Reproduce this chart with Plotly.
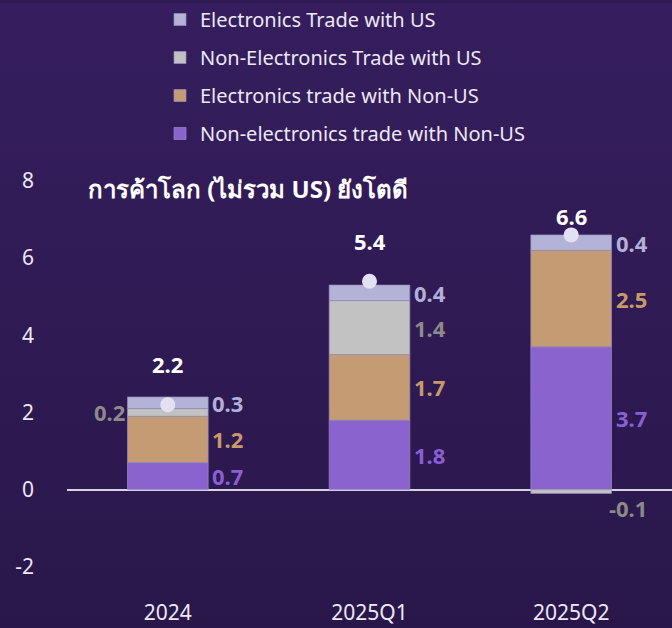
import plotly.graph_objects as go
import base64

categories = ["2024", "2025Q1", "2025Q2"]
elec_us = [0.3, 0.4, 0.4]
nonelec_us = [0.2, 1.4, -0.1]
elec_nonus = [1.2, 1.7, 2.5]
nonelec_nonus = [0.7, 1.8, 3.7]
totals = [2.2, 5.4, 6.6]
y_ticks = [-2, 0, 2, 4, 6, 8]
y_tick_text = ["-2", "0", "2", "4", "6", "8"]
title_text = "การค้าโลก (ไม่รวม US) ยังโตดี"

W, H = 672, 628
ML, MR, MT, MB = 67, 0, 160, 30
PW, PH = W - ML - MR, H - MT - MB

FONT = "Noto Sans, Open Sans, sans-serif"
TXT = "#ece8f4"

series = [
    ("Non-electronics trade with Non-US", nonelec_nonus, "#8a63cf", "#8a5fd6"),
    ("Electronics trade with Non-US", elec_nonus, "#c49b72", "#c8996b"),
    ("Non-Electronics Trade with US", nonelec_us, "#c2c2c2", "#8c8a8a"),
    ("Electronics Trade with US", elec_us, "#b3b3d8", "#b2b0d6"),
]

fig = go.Figure()
for i, (name, vals, col, _) in enumerate(series):
    fig.add_trace(go.Bar(
        x=categories, y=vals, name=name, width=0.4,
        marker=dict(color=col, line=dict(color="rgba(150,140,190,0.7)", width=1)),
        legendgroup=f"g{i}", legendrank=len(series) - i, hoverinfo="skip",
    ))

fig.add_trace(go.Scatter(
    x=categories, y=totals, mode="markers", showlegend=False,
    marker=dict(color="#e4e0f4", size=15), hoverinfo="skip",
))

annotations = []
LBL = 22
pos_base = [0.0] * len(categories)
neg_base = [0.0] * len(categories)
for name, vals, col, lcol in series:
    for j, v in enumerate(vals):
        if v >= 0:
            mid = pos_base[j] + v / 2
            pos_base[j] += v
            left_side = (name == "Non-Electronics Trade with US" and v < 0.3)
            annotations.append(dict(
                x=j + (-0.2 if left_side else 0.2), y=mid, xref="x", yref="y",
                text=f"<b>{v:.1f}</b>", showarrow=False,
                xanchor="right" if left_side else "left",
                xshift=-1 if left_side else 2,
                font=dict(family=FONT, size=LBL, color=lcol),
            ))
        else:
            bottom = neg_base[j] + v
            neg_base[j] = bottom
            annotations.append(dict(
                x=j + 0.2, y=bottom, xref="x", yref="y",
                text=f"<b>{v:.1f}</b>", showarrow=False, xanchor="left", yanchor="top",
                xshift=-5, yshift=2,
                font=dict(family=FONT, size=LBL, color=lcol),
            ))

for j, t in enumerate(totals):
    annotations.append(dict(
        x=j, y=min(t + 1.05, 7.1), xref="x", yref="y", text=f"<b>{t:.1f}</b>",
        showarrow=False, font=dict(family=FONT, size=LBL, color="#ffffff"),
    ))

annotations.append(dict(
    x=(86 - ML) / PW, y=(H - MB - 187) / PH, xref="paper", yref="paper",
    text=f"<b>{title_text}</b>", showarrow=False, xanchor="left", yanchor="middle",
    font=dict(family=FONT, size=24, color="#ffffff"),
))

svg = ('<svg xmlns="http://www.w3.org/2000/svg" width="672" height="628">'
       '<defs><linearGradient id="g" x1="0" y1="0" x2="0" y2="1">'
       '<stop offset="0" stop-color="#361e5e"/><stop offset="1" stop-color="#29174a"/>'
       '</linearGradient></defs><rect width="672" height="628" fill="url(#g)"/></svg>')
src = "data:image/svg+xml;base64," + base64.b64encode(svg.encode()).decode()

fig.update_layout(
    width=W, height=H,
    margin=dict(l=ML, r=MR, t=MT, b=MB),
    barmode="relative",
    paper_bgcolor="#2f1a52", plot_bgcolor="rgba(0,0,0,0)",
    font=dict(family=FONT, color=TXT),
    showlegend=True,
    legend=dict(
        x=(160 - ML) / PW, y=1 + (MT + 3) / PH, xanchor="left", yanchor="top",
        traceorder="grouped", tracegroupgap=9,
        font=dict(family=FONT, size=20, color=TXT), bgcolor="rgba(0,0,0,0)",
        itemwidth=30,
    ),
    xaxis=dict(range=[-0.5, 2.5], showgrid=False, zeroline=False, showline=False,
               tickfont=dict(family=FONT, size=21, color=TXT), ticks=""),
    yaxis=dict(range=[-2.81, 8.49],
               tickvals=y_ticks, ticktext=y_tick_text, showgrid=False,
               zeroline=True, zerolinecolor="#d8d4e4",
               zerolinewidth=2, showline=False, ticks="", ticklabelstandoff=32,
               tickfont=dict(family=FONT, size=21, color=TXT)),
    annotations=annotations,
    images=[dict(source=src, xref="paper", yref="paper", x=-ML / PW, y=1 + MT / PH,
                 sizex=W / PW, sizey=H / PH, sizing="stretch", layer="below",
                 xanchor="left", yanchor="top")],
)

fig.write_html("out.html", config={"displayModeBar": False},
               post_script="document.body.style.margin='0';")
